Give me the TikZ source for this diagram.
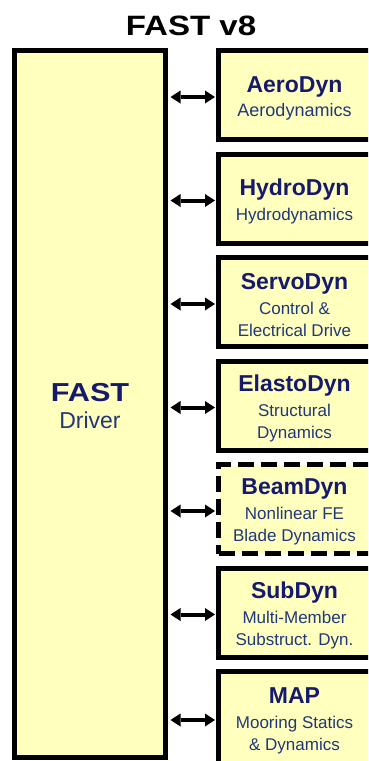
\documentclass[tikz,border=0pt]{standalone}
\usepackage{fontspec}
\setmainfont{Liberation Sans}
\newfontfamily\widefont[FakeStretch=1.18]{Liberation Sans}
\usetikzlibrary{arrows.meta}
\definecolor{boxfill}{RGB}{255,255,190}
\definecolor{hdcol}{RGB}{22,26,110}
\definecolor{sbcol}{RGB}{32,56,122}
\newcommand\hd[1]{{\fontsize{23}{23}\selectfont\bfseries\color{hdcol}#1}}
\begin{document}
\begin{tikzpicture}[x=1pt,y=-1pt,
  modbox/.style={draw=black, line width=5pt, fill=boxfill, minimum width=180pt,
    minimum height=89pt, inner sep=0pt},
  modtext/.style={align=center, font=\fontsize{17}{22}\selectfont, text=sbcol,
    xshift=-14pt, yshift=-3pt, inner sep=0pt},
  drvbox/.style={draw=black, line width=5pt, fill=boxfill, minimum width=151pt,
    minimum height=707pt, inner sep=0pt},
  dashbox/.style={dash pattern=on 16pt off 7pt},
  link/.style={line width=4pt,
    {Triangle[length=10pt,width=13pt,line width=0pt]}-{Triangle[length=10pt,width=13pt,line width=0pt]},
    shorten <=2.5pt, shorten >=1pt}]
\useasboundingbox (0,0) rectangle (368,761);
\clip (0,0) rectangle (368,761);
\fill[white] (0,0) rectangle (368,761);
\node[anchor=base] (title) at (191,35) {\widefont\fontsize{28}{28}\selectfont\bfseries FAST v8};
\node[drvbox] (drv) at (90,404) {};
\node[align=center, font=\fontsize{23}{26}\selectfont, text=sbcol, inner sep=0pt] (drvT) at (90,406)
  {{\widefont\fontsize{26}{26}\selectfont\bfseries\color{hdcol}FAST}\\[1pt]Driver};
\node[modbox] (aero) at (308.5,95) {};
\node[modtext] (aeroT) at (aero.center) {\hd{AeroDyn}\\[2pt]{\fontsize{18}{22}\selectfont Aerodynamics}};
\node[modbox] (hydro) at (308.5,198.5) {};
\node[modtext] (hydroT) at (hydro.center) {\hd{HydroDyn}\\[3pt]Hydrodynamics};
\node[modbox] (servo) at (308.5,302) {};
\node[modtext] (servoT) at (servo.center) {\hd{ServoDyn}\\[3pt]Control \&\\Electrical Drive};
\node[modbox] (elasto) at (308.5,405.5) {};
\node[modtext] (elastoT) at (elasto.center) {\hd{ElastoDyn}\\[3pt]Structural\\Dynamics};
\node[modbox,dashbox] (beam) at (308.5,509) {};
\node[modtext] (beamT) at (beam.center) {\hd{BeamDyn}\\[3pt]Nonlinear FE\\Blade Dynamics};
\node[modbox] (sub) at (308.5,612.5) {};
\node[modtext] (subT) at (sub.center) {\hd{SubDyn}\\[3pt]Multi-Member\\Substruct. Dyn.};
\node[modbox,minimum height=93pt] (map) at (308.5,718) {};
\node[modtext] (mapT) at (map.center) {\hd{MAP}\\[3pt]Mooring Statics\\\& Dynamics};
\foreach \m in {aero,hydro,servo,elasto,beam,sub,map}
  \draw[link] ([yshift=-2pt]\m.west -| drv.east) -- ([yshift=-2pt]\m.west);
\end{tikzpicture}
\end{document}
